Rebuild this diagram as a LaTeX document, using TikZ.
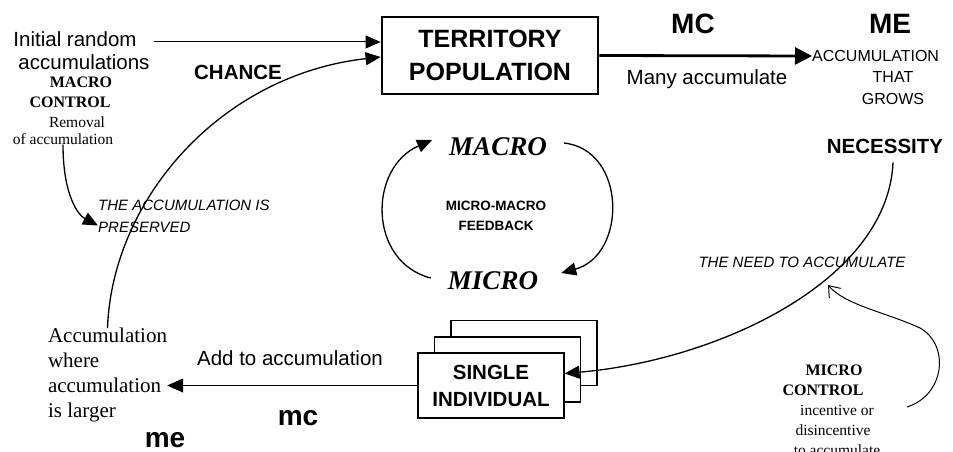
\documentclass[tikz,border=0pt]{standalone}
\usepackage{fontspec}
\setmainfont{Liberation Serif}
\setsansfont{Liberation Sans}
\usetikzlibrary{arrows.meta}

\tikzset{
	lbl/.style={inner sep=0pt, align=center},
	sanslbl/.style={lbl, font=\sffamily\fontsize{20.5}{22}\selectfont},
	boldlbl/.style={lbl, font=\sffamily\bfseries\fontsize{20.5}{22}\selectfont},
	biglbl/.style={lbl, font=\sffamily\bfseries\fontsize{28}{30}\selectfont},
	itallbl/.style={lbl, font=\sffamily\itshape\fontsize{15}{22}\selectfont},
	capslbl/.style={lbl, font=\sffamily\fontsize{16}{21.5}\selectfont},
	serifbold/.style={lbl, font=\bfseries\fontsize{16}{19}\selectfont},
	seriflbl/.style={lbl, font=\fontsize{15.5}{19}\selectfont},
	levellbl/.style={lbl, inner xsep=17pt, font=\bfseries\itshape\fontsize{27}{30}\selectfont},
	stackbox/.style={draw, fill=white, line width=1.2pt, minimum width=146pt, minimum height=65pt, inner sep=0pt},
	conn/.style={line width=1.3pt, -{Triangle[length=15pt,width=13pt]}},
}

\begin{document}
\begin{tikzpicture}[x=1pt, y=-1pt]
				\useasboundingbox (0,0) rectangle (953,452);
				
				% Territory
				\node[draw, line width=2.8pt, minimum width=216pt, minimum height=77pt, lbl, font=\sffamily\bfseries\fontsize{25}{33}\selectfont] (territory) at (490,55.5) {TERRITORY\\POPULATION};
				
				\node[sanslbl] (init1) at (75,39) {Initial random};
				\node[sanslbl] (init2) at (84,62) {accumulations};
				\node[boldlbl] (chance) at (238,72) {CHANCE};
				
				\node[serifbold] (macroc1) at (81,82) {MACRO};
				\node[serifbold] (macroc2) at (70,102) {CONTROL};
				\node[seriflbl] (removal1) at (77,122) {Removal};
				\node[seriflbl] (removal2) at (63,139) {of accumulation};
				\node[itallbl, anchor=north west, align=left] (preserved) at (98,200) {THE ACCUMULATION IS\\PRESERVED};
				
				\node[biglbl] (mcup) at (693,24) {MC};
				\node[biglbl] (meup) at (890,24) {ME};
				\node[sanslbl] (many) at (707,79) {Many accumulate};
				\node[capslbl, anchor=west] (accum) at (812,56) {ACCUMULATION};
				\node[capslbl] (grows) at (893,88) {THAT\\GROWS};
				\node[boldlbl] (necessity) at (885,146) {NECESSITY};
				
				% Feedback loop
				\node[levellbl] (macro) at (498,147) {MACRO};
				\node[levellbl] (micro) at (493,281) {MICRO};
				\node[lbl, font=\sffamily\bfseries\fontsize{13.5}{20}\selectfont] (feedback) at (496,216) {MICRO-MACRO\\FEEDBACK};
				
				\node[itallbl] (need) at (802,262) {THE NEED TO ACCUMULATE};
				\node[serifbold] (microc1) at (834,370) {MICRO};
				\node[serifbold] (microc2) at (823,390) {CONTROL};
				\node[seriflbl] (incent1) at (837,410) {incentive or};
				\node[seriflbl] (incent2) at (833,430) {disincentive};
				\node[seriflbl] (incent3) at (837,450) {to accumulate};
				
				% Single individual (stacked)
				\node[stackbox] (single3) at (524,353) {};
				\node[stackbox] (single2) at (507.5,369.5) {};
				\node[stackbox, font=\sffamily\bfseries\fontsize{20.5}{27}\selectfont, align=center] (single) at (491,385.5) {SINGLE\\INDIVIDUAL};
				
				\node[lbl, align=left, font=\fontsize{21}{24.7}\selectfont] (accwhere) at (107.5,375) {Accumulation\\where\\accumulation\\is larger};
				\node[sanslbl] (addto) at (290,358) {Add to accumulation};
				\node[biglbl] (mclow) at (298,418) {mc};
				\node[biglbl] (melow) at (165,440) {me};
				
				% Connectors
				\coordinate (initend) at ([xshift=17pt,yshift=-3pt]init1.east);
				\draw[line width=1pt, -{Triangle[length=15pt,width=13pt]}] (initend) -- (territory.west |- initend);
				\draw[conn] (accwhere.north) .. controls (112,200) and (220,75) .. ([yshift=-1.5pt]territory.west); % chance
				\draw[conn] (removal2.south) .. controls (63,195) and (78,215) .. ([yshift=-9pt]preserved.west);
				\draw[line width=2.8pt, -{Triangle[length=17pt,width=17pt]}] (territory.east) -- (accum.west); % MC
				\draw[conn] ([xshift=8pt,yshift=-9pt]necessity.south) .. controls (888,280) and (720,360) .. ([yshift=12pt]single.east);
				\draw[conn, -{Triangle[length=16pt,width=14pt]}] (single.west) -- (accwhere.east |- single.west);
				
				\draw[conn] ([yshift=3pt]micro.west) .. controls (368,262) and (368,168) .. ([yshift=7pt]macro.west);
				\draw[conn] ([yshift=4pt]macro.east) .. controls (627,150) and (627,255) .. ([xshift=6pt,yshift=8pt]micro.east);
				
				% micro control
				\coordinate (mcstart) at (907,407);
				\coordinate (mctip) at (828,285);
				\draw[line width=1pt, -{Straight Barb[length=10pt,width=15pt]}] (mcstart) .. controls (945,395) and (950,345) .. (920,328) .. controls (885,312) and (845,305) .. (mctip);
			\end{tikzpicture}
\end{document}
